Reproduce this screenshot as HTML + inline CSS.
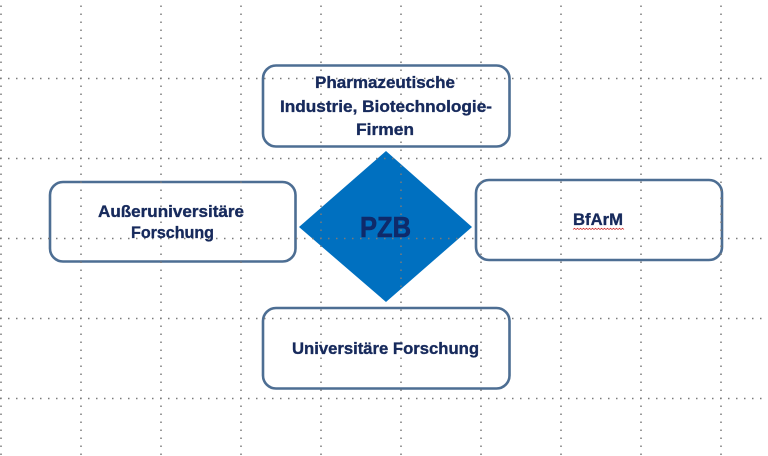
<!DOCTYPE html>
<html><head><meta charset="utf-8"><style>
html,body{margin:0;padding:0;background:#fff;}
svg{display:block;}
text{font-family:"Liberation Sans",Arial,sans-serif;font-weight:bold;fill:#172a5c;stroke:#172a5c;stroke-width:0.35;}
</style></head><body>
<svg width="768" height="456" viewBox="0 0 768 456" xmlns="http://www.w3.org/2000/svg">
<rect width="768" height="456" fill="#fff"/>
<!-- diamond -->
<polygon points="386,151 472,227 386,302 299,227" fill="#0070c0"/>
<!-- boxes -->
<g fill="none" stroke="#4d6e93" stroke-width="2.6">
<rect x="263" y="65.5" width="246.5" height="81" rx="13"/>
<rect x="50" y="182" width="245.5" height="79.5" rx="13"/>
<rect x="476" y="180" width="246" height="80" rx="13"/>
<rect x="263" y="308" width="246.5" height="80.5" rx="13"/>
</g>
<!-- grid -->
<g stroke="#7a7a7a" stroke-width="1.5" stroke-dasharray="1.5 6.5">
<line x1="0" y1="78.5" x2="762" y2="78.5"/>
<line x1="0" y1="158.5" x2="762" y2="158.5"/>
<line x1="0" y1="238.5" x2="762" y2="238.5"/>
<line x1="0" y1="318.5" x2="762" y2="318.5"/>
<line x1="0" y1="398.5" x2="762" y2="398.5"/>
</g>
<g stroke="#7a7a7a" stroke-width="1.5" stroke-dasharray="1.5 6.5">
<line x1="1" y1="5.5" x2="1" y2="456"/>
<line x1="81" y1="5.5" x2="81" y2="456"/>
<line x1="161" y1="5.5" x2="161" y2="456"/>
<line x1="241" y1="5.5" x2="241" y2="456"/>
<line x1="321" y1="5.5" x2="321" y2="456"/>
<line x1="401" y1="5.5" x2="401" y2="456"/>
<line x1="481" y1="5.5" x2="481" y2="456"/>
<line x1="561" y1="5.5" x2="561" y2="456"/>
<line x1="641" y1="5.5" x2="641" y2="456"/>
<line x1="721" y1="5.5" x2="721" y2="456"/>
</g>
<!-- texts -->
<text x="315" y="88" font-size="16.8" textLength="140" lengthAdjust="spacingAndGlyphs">Pharmazeutische</text>
<text x="280" y="112" font-size="16.8" textLength="212" lengthAdjust="spacingAndGlyphs">Industrie, Biotechnologie-</text>
<text x="356" y="135" font-size="16.8" textLength="58" lengthAdjust="spacingAndGlyphs">Firmen</text>
<text x="98" y="217" font-size="16.8" textLength="146" lengthAdjust="spacingAndGlyphs">Außeruniversitäre</text>
<text x="131" y="238" font-size="16.8" textLength="83" lengthAdjust="spacingAndGlyphs">Forschung</text>
<text x="573" y="225" font-size="16.3" textLength="50" lengthAdjust="spacingAndGlyphs">BfArM</text>
<path d="M573 229.5 l1.5 -1.2 l1.5 1.2 l1.5 -1.2 l1.5 1.2 l1.5 -1.2 l1.5 1.2 l1.5 -1.2 l1.5 1.2 l1.5 -1.2 l1.5 1.2 l1.5 -1.2 l1.5 1.2 l1.5 -1.2 l1.5 1.2 l1.5 -1.2 l1.5 1.2 l1.5 -1.2 l1.5 1.2 l1.5 -1.2 l1.5 1.2 l1.5 -1.2 l1.5 1.2 l1.5 -1.2 l1.5 1.2 l1.5 -1.2 l1.5 1.2 l1.5 -1.2 l1.5 1.2 l1.5 -1.2 l1.5 1.2 l1.5 -1.2 l1.5 1.2 l1.5 -1.2 l1.5 1.2" fill="none" stroke="#d03030" stroke-width="0.8"/>
<text x="292" y="354" font-size="16.8" textLength="187" lengthAdjust="spacingAndGlyphs">Universitäre Forschung</text>
<text x="360" y="237" font-size="29" textLength="51" lengthAdjust="spacingAndGlyphs" style="fill:#0f2a6a;stroke:#0f2a6a;stroke-width:0.6">PZB</text>
</svg>
</body></html>
